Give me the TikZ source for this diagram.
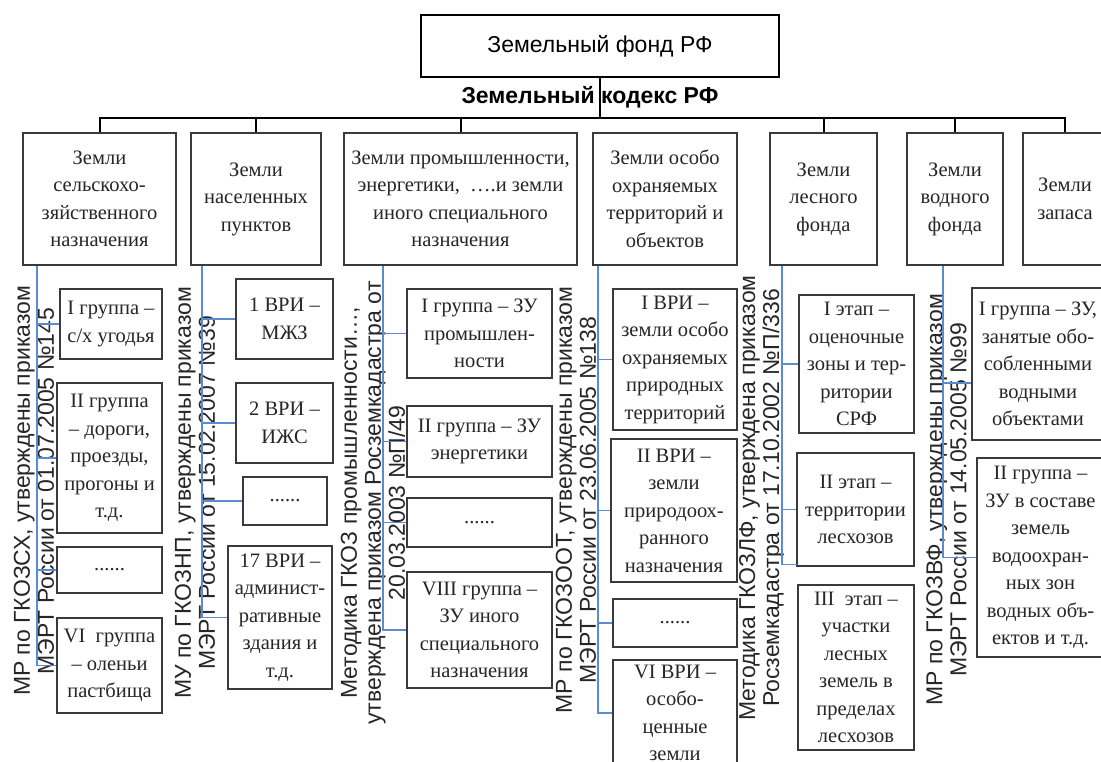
\documentclass[tikz,border=0pt]{standalone}
\usepackage{fontspec}
\setmainfont{Liberation Serif}
\setsansfont{Liberation Sans}
\definecolor{bluec}{HTML}{5B8BD0}
\definecolor{boxc}{HTML}{3A3A3A}
\newcommand\mkbox[7][]{\node[#1, minimum width={(#5-#3)*1pt}, minimum height={(#6-#4)*1pt}] (#2) at ({(#3+#5)/2},{(#4+#6)/2}) {#7};}
\tikzset{
  sbox/.style={draw=boxc, line width=1.5pt, inner sep=0pt, align=center, fill=white,
    font=\fontsize{20.5}{27.5}\selectfont, text=black!85},
  topbox/.style={draw=black, line width=1.5pt, inner sep=0pt, align=center, fill=white,
    font=\sffamily\fontsize{23}{26}\selectfont},
  rottext/.style={rotate=90, align=center, inner sep=0pt, text=black!85,
    font=\sffamily\fontsize{23}{24}\selectfont},
  bl/.style={draw=bluec, line width=1.5pt},
  blk/.style={draw=black, line width=2pt},
}
\begin{document}
\begin{tikzpicture}[x=1pt, y=-1pt]
\fill[white] (0,0) rectangle (1101,762);
\useasboundingbox (0,0) rectangle (1101,762);

% rotated legal references
\node[rottext] (r1) at (34,491) {МР по ГКОЗСХ, утверждены приказом\\МЭРТ России от 01.07.2005 №145};
\node[rottext] (r2) at (195,493) {МУ по ГКОЗНП, утверждены приказом\\МЭРТ России от 15.02.2007 №39};
\node[rottext] (r3) at (373,503) {Методика ГКОЗ промышленности…,\\утверждена приказом Росземкадастра от\\20.03.2003 №П/49};
\node[rottext] (r4) at (576,500) {МР по ГКОЗООТ, утверждены приказом\\МЭРТ России от 23.06.2005 №138};
\node[rottext] (r5) at (761.5,498) {Методика ГКОЗЛФ, утверждена приказом\\Росземкадастра от 17.10.2002 №П/336};
\node[rottext] (r6) at (946.5,500) {МР по ГКОЗВФ, утверждены приказом\\МЭРТ России от 14.05.2005 №99};

% top
\mkbox[topbox]{top}{421}{15}{779}{77}{Земельный фонд РФ}
\node[font=\sffamily\bfseries\fontsize{23}{26}\selectfont, inner sep=0pt] (kodeks) at (590,97) {Земельный кодекс РФ};

% categories
\mkbox[sbox]{c1}{23}{133}{176}{265}{Земли\\сельскохо-\\зяйственного\\назначения}
\mkbox[sbox]{c2}{191}{133}{321}{265}{Земли\\населенных\\пунктов}
\mkbox[sbox]{c3}{344}{133}{577}{265}{Земли промышленности,\\энергетики,\ \ ….и земли\\иного специального\\назначения}
\mkbox[sbox]{c4}{593}{133}{737}{265}{Земли особо\\охраняемых\\территорий и\\объектов}
\mkbox[sbox]{c5}{770}{133}{877}{265}{Земли\\лесного\\фонда}
\mkbox[sbox]{c6}{907}{133}{1003}{265}{Земли\\водного\\фонда}
\mkbox[sbox]{c7}{1023}{133}{1107}{265}{Земли\\запаса}

% bus
\coordinate (bus) at (600,118);
\draw[blk] (top.south) -- (top.south |- bus);
\draw[blk] (c1.north) -- (c1.north |- bus) -- (c7.north |- bus) -- (c7.north);
\foreach \c in {c2,c3,c5,c6} \draw[blk] (\c.north) -- (\c.north |- bus);

% column 1
\mkbox[sbox]{s11}{60}{289}{162}{359}{I группа –\\с/х угодья}
\mkbox[sbox]{s12}{57}{383}{162}{533}{II группа\\– дороги,\\проезды,\\прогоны и\\т.д.}
\mkbox[sbox]{s13}{57}{547}{162}{593}{......}
\mkbox[sbox]{s14}{57}{618}{162}{713}{VI\ \ группа\\– оленьи\\пастбища}
% column 2
\mkbox[sbox]{s21}{236}{279}{333}{359}{1 ВРИ –\\МЖЗ}
\mkbox[sbox]{s22}{236}{383}{333}{463}{2 ВРИ –\\ИЖС}
\mkbox[sbox]{s23}{243}{477}{327}{525}{......}
\mkbox[sbox]{s24}{228}{546}{332}{689}{17 ВРИ –\\админист-\\ративные\\здания и\\т.д.}
% column 3
\mkbox[sbox]{s31}{407}{289}{552}{378}{I группа – ЗУ\\промышлен-\\ности}
\mkbox[sbox]{s32}{407}{406}{552}{477}{II группа – ЗУ\\энергетики}
\mkbox[sbox]{s33}{407}{498}{552}{547}{......}
\mkbox[sbox]{s34}{407}{572}{552}{688}{VIII группа –\\ЗУ иного\\специального\\назначения}
% column 4
\mkbox[sbox]{s41}{613}{289}{737}{430}{I ВРИ –\\земли особо\\охраняемых\\природных\\территорий}
\mkbox[sbox]{s42}{611}{439}{737}{582}{II ВРИ –\\земли\\природоох-\\ранного\\назначения}
\mkbox[sbox]{s43}{613}{599}{737}{647}{......}
\mkbox[sbox]{s44}{613}{660}{737}{766}{VI ВРИ –\\особо-\\ценные\\земли}
% column 5
\mkbox[sbox]{s51}{799}{295}{914}{433}{I этап –\\оценочные\\зоны и тер-\\ритории\\СРФ}
\mkbox[sbox]{s52}{797}{453}{914}{566}{II этап –\\территории\\лесхозов}
\mkbox[sbox]{s53}{798}{585}{914}{750}{III\ \ этап –\\участки\\лесных\\земель в\\пределах\\лесхозов}
% column 6
\mkbox[sbox]{s61}{972}{288}{1104}{440}{I группа – ЗУ,\\занятые обо-\\собленными\\водными\\объектами}
\mkbox[sbox]{s62}{977}{458}{1104}{657}{II группа –\\ЗУ в составе\\земель\\водоохран-\\ных зон\\водных объ-\\ектов и т.д.}

% blue trunks and stubs
\coordinate (t1) at (37,0);
\coordinate (t2) at (202,0);
\coordinate (t3) at (383,0);
\coordinate (t4) at (598,0);
\coordinate (t5) at (782,0);
\coordinate (t6) at (943,0);

\draw[bl] (c1.south -| t1) -- (t1 |- s14.west) -- (s14.west);
\foreach \s in {s11,s12,s13} \draw[bl] (t1 |- \s.west) -- (\s.west);

\draw[bl] (c2.south -| t2) -- (t2 |- s24.west) -- (s24.west);
\foreach \s in {s21,s22,s23} \draw[bl] (t2 |- \s.west) -- (\s.west);

\draw[bl] (c3.south -| t3) -- (t3 |- s34.west) -- (s34.west);
\foreach \s in {s31,s32,s33} \draw[bl] (t3 |- \s.west) -- (\s.west);

\draw[bl] (c4.south -| t4) -- (t4 |- s44.west) -- (s44.west);
\foreach \s in {s41,s42,s43} \draw[bl] (t4 |- \s.west) -- (\s.west);

\coordinate (k53) at ([yshift=20pt]s53.north west);
\draw[bl] (c5.south -| t5) -- (t5 |- k53) -- (k53);
\foreach \s in {s51,s52} \draw[bl] (t5 |- \s.west) -- (\s.west);

\coordinate (k61) at ([yshift=-19pt]s61.west);
\draw[bl] (c6.south -| t6) -- (t6 |- s62.west) -- (s62.west);
\draw[bl] (t6 |- k61) -- (k61);
\end{tikzpicture}
\end{document}
